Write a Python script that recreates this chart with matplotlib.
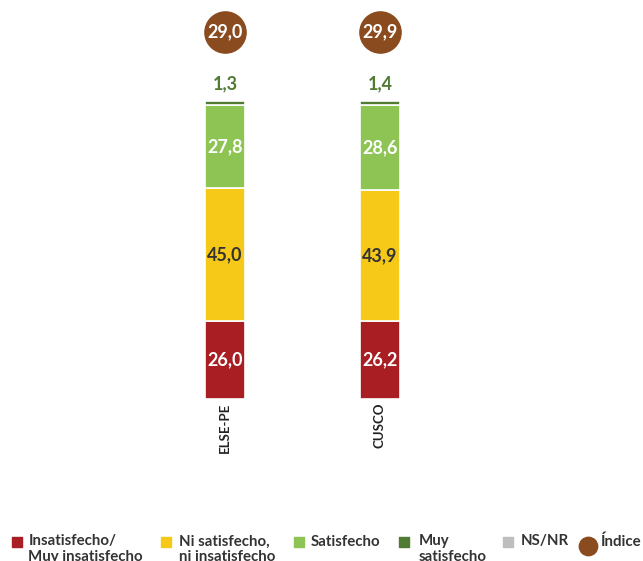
import matplotlib.pyplot as plt
import numpy as np

plt.rcParams['font.family'] = ['Lato', 'DejaVu Sans']

# data
zonas = ['ELSE-PE', 'CUSCO']
insatisfecho = [26.0, 26.2]
ni_ni = [45.0, 43.9]
satisfecho = [27.8, 28.6]
muy_satisfecho = [1.3, 1.4]
indice = [29.0, 29.9]

legend_labels = ['Insatisfecho/\nMuy insatisfecho', 'Ni satisfecho,\nni insatisfecho',
                 'Satisfecho', 'Muy\nsatisfecho', 'NS/NR', 'Índice']

c_red = '#A81E22'
c_yel = '#F6C919'
c_lgr = '#8DC454'
c_dgr = '#4F7B32'
c_gry = '#BEBEBE'
c_brn = '#8A4B1F'

fig = plt.figure(figsize=(6.43, 5.61), dpi=100)
ax = fig.add_axes([0, 161 / 561, 1, 400 / 561])
x = np.arange(len(zonas))
w = 0.26

bottom = np.zeros(len(zonas))
series = [(insatisfecho, c_red, 'white'), (ni_ni, c_yel, '#333333'),
          (satisfecho, c_lgr, 'white'), (muy_satisfecho, c_dgr, None)]
for vals, col, tcol in series:
    vals = np.array(vals)
    ax.bar(x, vals, w, bottom=bottom, color=col, edgecolor='white', linewidth=1.2)
    if tcol is not None:
        for xi, b, v in zip(x, bottom, vals):
            ax.text(xi, b + v / 2, f'{v:.1f}'.replace('.', ','), ha='center', va='center',
                    color=tcol, fontsize=13, fontweight='bold')
    bottom = bottom + vals

for xi, b, v in zip(x, bottom, muy_satisfecho):
    ax.text(xi, b + 6, f'{v:.1f}'.replace('.', ','), ha='center', va='center',
            color=c_dgr, fontsize=13, fontweight='bold')

ax.scatter(x, [123.5] * len(x), s=880, color=c_brn, zorder=3)
for xi, v in zip(x, indice):
    ax.text(xi, 123.5, f'{v:.1f}'.replace('.', ','), ha='center', va='center',
            color='white', fontsize=13, fontweight='bold', zorder=4)

for xi, z in zip(x, zonas):
    ax.text(xi, -1.5, z, rotation=90, ha='center', va='top', fontsize=9.5,
            fontweight='bold', color='#222222')

ax.set_xlim(-225 / 155, (643 - 225) / 155)
ax.set_ylim(-0.5, 134.2)
ax.axis('off')

# legend
lg = fig.add_axes([0, 0, 1, 1])
lg.set_xlim(0, 643)
lg.set_ylim(561, 0)
lg.axis('off')
mark_x = [17, 165.5, 299, 404, 508, 588]
text_x = [28.5, 179, 311, 419, 521, 601]
mark_c = [c_red, c_yel, c_lgr, c_dgr, c_gry, c_brn]
for i in range(6):
    if i < 5:
        lg.scatter(mark_x[i], 542, marker='s', s=52, color=mark_c[i])
    else:
        lg.scatter(mark_x[i], 546, marker='o', s=175, color=mark_c[i])
    lg.text(text_x[i], 534.5, legend_labels[i], ha='left', va='top', fontsize=10.8,
            fontweight='bold', color='#333333', linespacing=1.12)

fig.savefig('out.png', dpi=100)
